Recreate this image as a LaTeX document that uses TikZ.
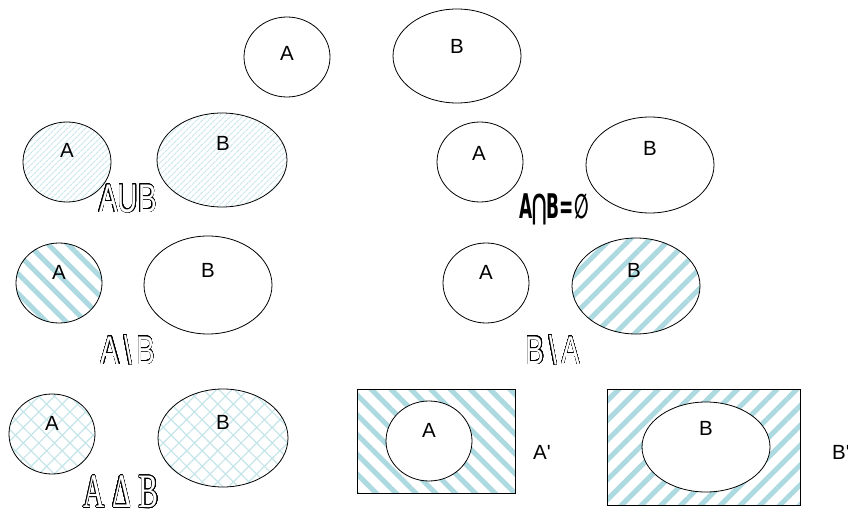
\documentclass[tikz,border=0pt]{standalone}
\usepackage{fontspec}
\setmainfont{Liberation Sans}
\newfontfamily\serifset{Liberation Serif}
\newfontfamily\symset{DejaVu Sans}
\usepackage{contour}
\usetikzlibrary{patterns.meta}
\definecolor{stripeblue}{RGB}{172,218,224}
\contourlength{0.55pt}
\contournumber{32}
\newcommand{\hollow}[1]{\contour{black}{\textcolor{white}{#1}}}
\tikzset{
    setlabel/.style = {font=\fontsize{20.5}{24}\selectfont},
    opname/.style = {font=\fontsize{40}{44}\selectfont, xscale=0.7},
    outline/.style = {black, line width=0.8pt},
    thinlines/.style = {pattern={Lines[angle=45, distance=4pt, line width=1.2pt]}, pattern color=stripeblue!65},
    widelines/.style = {pattern={Lines[angle=#1, distance=14pt, line width=5pt]}, pattern color=stripeblue},
    crosslines/.style = {pattern={Hatch[angle=45, distance=11pt, line width=1.2pt]}, pattern color=stripeblue!70},
}
\begin{document}
\begin{tikzpicture}[x=1pt, y=1pt]
        \useasboundingbox (0,0) rectangle (848,-513);
        % the two sets
        \draw
            [outline] (287,-57) ellipse [x radius=43, y radius=40];
        \draw
            [outline] (457,-56) ellipse [x radius=64, y radius=47];
        \node[setlabel] (topA) at (287,-53) {A};
        \node[setlabel] (topB) at (457,-46) {B};
        % union
        \draw
            [outline, thinlines] (67,-162) ellipse [x radius=44, y radius=40];
        \draw
            [outline, thinlines] (222,-160) ellipse [x radius=65, y radius=47];
        \node[setlabel] (uniA) at (67,-150) {A};
        \node[setlabel] (uniB) at (223,-143) {B};
        \node[opname] (uni) at (128,-199) {\hollow{AUB}};
        % intersection
        \draw
            [outline] (480,-162) ellipse [x radius=43, y radius=40];
        \draw
            [outline] (650,-165) ellipse [x radius=64, y radius=48];
        \node[setlabel] (intA) at (479,-153) {A};
        \node[setlabel] (intB) at (650,-148) {B};
        \node[font=\symset\bfseries\fontsize{34}{38}\selectfont, xscale=0.5] (int) at (554,-209) {A⋂B=∅};
        % A minus B
        \draw
            [outline, widelines=-45] (59,-283) ellipse [x radius=43, y radius=40];
        \draw
            [outline] (208,-285) ellipse [x radius=64, y radius=49];
        \node[setlabel] (difA) at (59,-272) {A};
        \node[setlabel] (difB) at (208,-270) {B};
        \node[opname] (dif) at (128,-350) {\hollow{A\,\textbackslash\,B}};
        % B minus A
        \draw
            [outline] (486,-283) ellipse [x radius=43, y radius=40];
        \draw
            [outline, widelines=45] (636,-286) ellipse [x radius=64, y radius=48];
        \node[setlabel] (rdifA) at (486,-272) {A};
        \node[setlabel] (rdifB) at (634,-270) {B};
        \node[opname] (rdif) at (553,-350) {\hollow{B\,\textbackslash\,A}};
        % symmetric difference
        \draw
            [outline, crosslines] (52,-434) ellipse [x radius=43, y radius=40];
        \draw
            [outline, crosslines] (223,-438) ellipse [x radius=65, y radius=49];
        \node[setlabel] (symA) at (52,-423) {A};
        \node[setlabel] (symB) at (223,-422) {B};
        \node[font=\serifset\fontsize{48}{52}\selectfont, xscale=0.62] (sym) at (121,-492) {\hollow{A Δ B}};
        % complements
        \draw
            [outline, widelines=-45] (357,-389) rectangle (515,-493);
        \draw
            [outline, fill=white] (429,-441) ellipse [x radius=43, y radius=40];
        \node[setlabel] (comA) at (429,-430) {A};
        \node[setlabel] (compA) at (542,-452) {A\textquotesingle};
        \draw
            [outline, widelines=45] (607,-389) rectangle (800,-505);
        \draw
            [outline, fill=white] (706,-447) ellipse [x radius=64, y radius=45];
        \node[setlabel] (comB) at (706,-428) {B};
        \node[setlabel] (compB) at (841,-452) {B\textquotesingle};
    \end{tikzpicture}
\end{document}
